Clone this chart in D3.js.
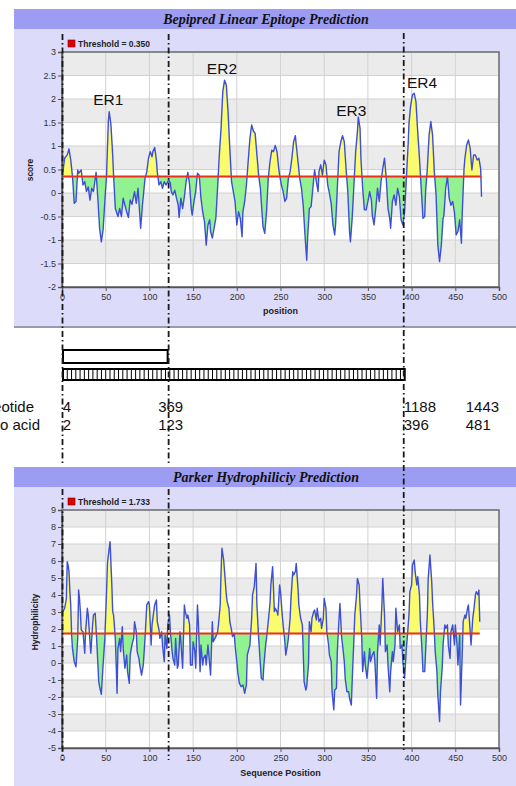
<!DOCTYPE html>
<html><head><meta charset="utf-8">
<script src="https://cdn.jsdelivr.net/npm/d3@7"></script>
<style>body{margin:0;background:#fff;overflow:hidden}svg{display:block}</style>
</head><body><svg id="c" width="516" height="786"></svg>
<script>
// ---------- DATA ----------
const bepipredTitle = "Bepipred Linear Epitope Prediction";
const parkerTitle = "Parker Hydrophiliciy Prediction";
const bepipredThreshold = 0.350;
const parkerThreshold = 1.733;
const xTicks = [0,50,100,150,200,250,300,350,400,450,500];
const bepipredYTicks = [3,2.5,2,1.5,1,0.5,0,-0.5,-1,-1.5,-2];
const parkerYTicks = [9,8,7,6,5,4,3,2,1,0,-1,-2,-3,-4,-5];
// [position, score]
const bepipred = [[1,0.45],[3,0.74],[6,0.81],[8,0.94],[10,0.70],[12,0.35],[14,-0.22],[16,-0.18],[18,0.49],[19,0.42],[22,0.49],[24,0.17],[26,0.24],[28,0.03],[30,0.13],[32,-0.15],[34,0.10],[36,0.03],[39,0.44],[41,-0.11],[43,-0.75],[45,-1.04],[47,-0.79],[49,-0.18],[51,0.38],[53,1.52],[54,1.73],[56,1.45],[58,0.81],[59,0.38],[61,-0.33],[64,-0.50],[66,-0.33],[68,-0.50],[70,-0.11],[72,-0.26],[74,-0.40],[76,-0.52],[78,-0.15],[80,-0.24],[83,0.03],[85,-0.22],[87,0.10],[90,-0.75],[92,-0.26],[95,0.31],[97,0.45],[99,0.74],[101,0.88],[103,0.77],[104,0.88],[106,0.97],[108,0.70],[109,0.45],[111,0.17],[113,0.24],[115,0.10],[117,0.24],[119,0.17],[122,0.28],[124,0.21],[125,0.03],[127,-0.04],[129,0.06],[131,-0.11],[133,-0.26],[134,-0.52],[136,-0.11],[138,-0.33],[140,-0.08],[142,0.24],[144,0.44],[146,0.17],[148,-0.36],[149,-0.47],[151,-0.18],[153,0.03],[155,0.42],[157,0.38],[159,-0.11],[161,-0.40],[163,-0.61],[165,-1.11],[167,-0.68],[169,-0.57],[170,-0.82],[172,-0.96],[174,-0.75],[176,-0.54],[178,0.10],[180,0.81],[182,1.38],[184,2.16],[186,2.40],[188,2.30],[190,1.73],[192,0.95],[194,0.24],[196,0.03],[198,-0.18],[200,-0.68],[202,-0.40],[204,-0.54],[206,-0.93],[207,-0.40],[209,-0.18],[211,0.17],[213,0.67],[215,1.16],[217,1.45],[219,1.32],[221,1.27],[223,0.81],[225,0.38],[227,0.10],[228,-0.18],[230,-0.72],[232,-0.86],[234,-0.40],[236,0.31],[238,0.67],[240,0.91],[242,0.88],[244,1.01],[246,0.88],[248,0.52],[249,0.38],[251,0.17],[253,0.03],[255,-0.18],[257,-0.11],[259,0.31],[261,0.45],[263,0.74],[265,1.09],[267,1.22],[268,1.02],[270,0.67],[272,0.31],[274,0.10],[276,-0.26],[278,-0.89],[280,-1.43],[281,-0.96],[283,-0.33],[285,-0.29],[287,0.10],[289,0.49],[291,0.24],[293,0.03],[294,0.45],[296,0.60],[298,0.38],[300,0.70],[302,0.60],[304,0.17],[306,-0.01],[308,-0.22],[310,-0.68],[312,-0.89],[313,-0.68],[315,0.10],[317,0.88],[319,1.09],[321,1.22],[323,1.09],[325,0.52],[327,0.03],[329,-0.82],[330,-1.04],[332,-0.54],[334,0.17],[336,0.88],[338,1.30],[339,1.62],[341,1.38],[342,0.74],[344,0.10],[346,-0.36],[348,-0.36],[350,-0.18],[352,0.03],[354,-0.15],[355,-0.47],[357,-0.68],[359,-0.33],[361,0.10],[363,-0.18],[365,0.24],[367,0.52],[369,0.74],[371,0.31],[373,-0.33],[375,-0.54],[376,-0.75],[378,-0.18],[380,-0.04],[382,-0.26],[384,0.10],[386,-0.08],[388,-0.57],[390,-0.68],[392,-0.40],[394,0.31],[396,1.02],[397,1.48],[399,1.87],[401,2.09],[403,2.12],[405,1.94],[407,1.30],[409,0.74],[411,0.10],[413,-0.54],[415,-0.50],[416,0.03],[418,0.52],[420,1.23],[422,1.52],[424,1.23],[426,0.45],[428,-0.04],[430,-1.11],[432,-1.46],[434,-1.11],[436,-0.54],[437,-0.47],[439,0.10],[441,0.35],[443,-0.11],[445,-0.26],[447,-0.18],[449,-0.40],[451,-0.89],[453,-0.82],[455,-0.57],[457,-1.07],[458,-0.40],[460,0.52],[461,0.74],[463,1.02],[465,1.13],[467,0.95],[469,0.49],[471,0.81],[473,0.81],[475,0.70],[477,0.74],[479,0.52],[480,-0.08]];
// [position, hydrophilicity]
const parker = [[1,3.02],[3,3.22],[5,3.80],[6,5.96],[7,5.76],[8,5.37],[9,4.20],[10,3.41],[11,1.65],[12,0.86],[14,0.08],[16,-0.22],[18,1.45],[19,4.29],[20,3.80],[21,3.02],[22,1.94],[24,1.84],[26,0.57],[27,1.84],[29,3.22],[30,2.82],[32,1.25],[33,0.57],[35,2.24],[36,2.82],[38,2.92],[40,1.06],[42,-1.10],[43,-1.39],[45,-1.84],[47,-0.12],[49,1.45],[51,4.20],[52,5.86],[54,6.75],[55,7.14],[57,4.59],[58,3.02],[59,2.82],[61,1.45],[62,-0.12],[63,-1.78],[64,0.86],[66,1.45],[67,0.67],[69,2.14],[70,0.86],[72,-0.31],[74,0.47],[75,-0.51],[77,-1.20],[78,0.47],[80,1.06],[82,1.45],[83,2.43],[85,1.84],[86,0.67],[88,0.27],[89,-0.12],[91,-0.71],[93,-0.12],[95,1.45],[97,3.41],[99,3.61],[100,3.41],[102,1.06],[103,2.24],[105,3.02],[106,3.41],[108,3.71],[109,2.43],[111,1.94],[112,1.45],[114,1.84],[115,1.06],[117,0.08],[118,1.65],[120,0.86],[121,2.24],[123,2.82],[124,1.84],[126,0.67],[127,0.27],[129,-0.12],[130,1.45],[132,-0.31],[133,-0.12],[135,1.84],[136,1.25],[138,-0.31],[140,3.41],[141,3.02],[143,2.63],[144,2.82],[146,2.24],[147,-0.12],[149,-0.12],[150,1.25],[152,0.67],[153,-0.31],[155,3.41],[156,2.43],[158,-0.51],[159,1.06],[161,-0.12],[162,0.27],[164,0.47],[165,-0.12],[167,1.06],[169,-0.12],[170,-0.71],[172,2.43],[173,1.25],[175,1.45],[176,1.55],[178,1.84],[179,2.24],[181,3.41],[182,5.37],[183,6.75],[185,6.06],[186,5.37],[188,4.00],[189,3.61],[191,3.22],[192,2.43],[194,1.94],[195,1.55],[197,1.75],[198,1.06],[200,0.08],[201,-0.51],[203,-1.20],[205,-1.39],[207,-1.29],[209,-1.78],[211,-1.29],[212,0.47],[214,0.86],[215,1.06],[217,2.63],[218,4.00],[220,4.49],[221,5.18],[222,5.86],[223,3.41],[225,1.45],[227,-0.12],[228,-0.90],[230,-1.00],[231,-0.12],[233,1.06],[234,1.45],[236,2.43],[238,3.51],[239,4.59],[241,5.67],[243,3.02],[244,3.22],[246,3.02],[247,2.82],[249,4.59],[250,4.20],[252,2.82],[253,2.24],[255,1.25],[256,0.47],[258,1.06],[259,1.45],[261,2.63],[262,3.80],[264,5.37],[265,5.18],[267,5.37],[268,5.86],[270,4.39],[271,3.41],[273,2.63],[275,2.24],[276,0.67],[277,-1.10],[279,-1.59],[280,-1.39],[282,-0.12],[283,2.43],[285,1.84],[286,2.63],[288,3.02],[289,3.12],[291,2.53],[292,3.22],[294,2.43],[296,2.63],[297,2.04],[299,2.63],[300,3.80],[302,3.22],[303,1.84],[305,1.06],[306,0.47],[308,0.08],[309,-1.69],[311,-2.76],[312,-1.59],[314,-1.49],[315,0.67],[317,2.63],[318,3.51],[320,1.45],[321,1.06],[323,0.08],[324,-0.90],[326,-1.69],[328,-1.69],[329,-2.08],[331,-2.47],[332,-1.10],[334,1.45],[335,2.82],[337,4.00],[338,4.98],[340,4.59],[341,3.41],[343,1.45],[344,-0.51],[346,0.67],[347,-0.12],[349,-0.90],[350,-0.31],[352,0.86],[353,0.08],[355,0.47],[357,0.67],[358,0.08],[360,-2.08],[361,0.67],[363,2.24],[364,1.06],[366,3.41],[367,4.98],[369,2.82],[370,0.67],[372,1.06],[373,-0.12],[375,-1.69],[376,-0.51],[378,0.67],[379,0.08],[381,1.06],[382,3.22],[384,1.84],[386,2.24],[387,0.86],[389,1.06],[390,0.08],[392,-0.90],[394,0.86],[395,1.45],[397,2.82],[398,4.20],[400,4.59],[401,5.76],[403,6.06],[404,5.37],[406,4.59],[407,5.08],[409,4.00],[410,2.43],[412,0.67],[413,-0.51],[415,-0.51],[416,0.67],[418,2.82],[419,4.98],[421,6.35],[423,4.78],[424,3.61],[426,1.84],[427,0.67],[429,-0.51],[430,-1.88],[432,-3.45],[433,-1.69],[435,-0.31],[436,1.06],[438,2.24],[439,2.04],[441,2.24],[442,1.06],[444,0.27],[445,1.84],[447,2.24],[449,1.06],[450,2.24],[452,1.06],[453,-0.12],[455,1.65],[456,-2.47],[458,0.67],[459,2.43],[461,2.82],[462,2.63],[464,3.22],[465,3.41],[467,1.84],[468,1.06],[470,2.63],[471,3.02],[473,4.00],[474,4.20],[476,4.00],[477,4.29],[478,2.43]];
// epitope region labels, anchored in data coordinates (position, score)
const erNames = ["ER1","ER2","ER3","ER4"];
const erPos = [53,183,331,412];
const erScore = [1.87,2.53,1.64,2.23];
// region boundaries (amino-acid position)
const dividerPos = [0,122,391];
const rowNames = ["Nucleotide","Amino acid"];
const nucleotideLabels = ["4","369","1188","1443"];
const aminoLabels = ["2","123","396","481"];
const labelPos = [1,110,391,462];
const segmentCount = 80;

// ---------- DRAW ----------
const svg = d3.select("#c");
const x = d3.scaleLinear().domain([0,500]).range([62,499]);
const C = {panel:"#dcdcfa", bar:"#9c9cf2", band:"#ebebeb", grid:"#d2d2d2",
  line:"#3d4fd6", yellow:"#fbfb6e", green:"#92f292", red:"#e8301c"};
const tf = "'Liberation Sans',Arial,sans-serif";

function chart(o){
  const g = svg.append("g");
  g.append("rect").attr("x",14).attr("y",o.top).attr("width",510).attr("height",o.bottom-o.top).attr("fill",C.panel);
  if (o.bottomEdge) g.append("line").attr("x1",14).attr("x2",516).attr("y1",o.bottom).attr("y2",o.bottom).attr("stroke","#9a9aa8").attr("stroke-width",2);
  g.append("rect").attr("x",14).attr("y",o.top).attr("width",510).attr("height",20).attr("fill",C.bar);
  g.append("text").attr("x",266).attr("y",o.top+15).attr("text-anchor","middle")
    .attr("font-family","'Liberation Serif','Times New Roman',serif").attr("font-weight","bold").attr("font-style","italic")
    .attr("font-size",14).attr("fill","#111").text(o.title);
  // legend
  g.append("rect").attr("x",68).attr("y",o.legendY-6).attr("width",7).attr("height",7).attr("fill","#e00000").attr("stroke","#700").attr("stroke-width",0.6);
  g.append("text").attr("x",78).attr("y",o.legendY+1).attr("font-family",tf)
    .attr("font-weight","bold").attr("font-size",8.5).attr("fill","#222").text("Threshold  = " + o.threshold.toFixed(3));

  const y = d3.scaleLinear().domain(o.ydom).range([o.py1,o.py0]);
  const ticks = o.yticks;
  for (let i=0;i<ticks.length-1;i++){
    g.append("rect").attr("x",x(0)).attr("width",x(500)-x(0))
      .attr("y",y(ticks[i])).attr("height",y(ticks[i+1])-y(ticks[i]))
      .attr("fill", i%2===0 ? C.band : "#ffffff");
  }
  g.append("g").selectAll("line").data(ticks).join("line")
    .attr("x1",x(0)).attr("x2",x(500)).attr("y1",d=>y(d)).attr("y2",d=>y(d)).attr("stroke",C.grid).attr("stroke-width",1);
  g.append("g").selectAll("line").data(xTicks).join("line")
    .attr("x1",d=>x(d)).attr("x2",d=>x(d)).attr("y1",o.py0).attr("y2",o.py1).attr("stroke",C.grid).attr("stroke-width",1);

  const ty = y(o.threshold);
  const idA = o.id+"A", idB = o.id+"B";
  const defs = g.append("defs");
  defs.append("clipPath").attr("id",idA).append("rect").attr("x",0).attr("y",0).attr("width",516).attr("height",ty);
  defs.append("clipPath").attr("id",idB).append("rect").attr("x",0).attr("y",ty).attr("width",516).attr("height",786);
  const area = d3.area().x(d=>x(d[0])).y0(ty).y1(d=>y(d[1]));
  g.append("path").attr("d",area(o.data)).attr("fill",C.yellow).attr("clip-path",`url(#${idA})`);
  g.append("path").attr("d",area(o.data)).attr("fill",C.green).attr("clip-path",`url(#${idB})`);
  g.append("path").attr("d",d3.line().x(d=>x(d[0])).y(d=>y(d[1]))(o.data))
    .attr("fill","none").attr("stroke",C.line).attr("stroke-width",1.4).attr("stroke-linejoin","round");
  g.append("line").attr("x1",x(0)).attr("x2",x(o.data[o.data.length-1][0])).attr("y1",ty).attr("y2",ty)
    .attr("stroke",C.red).attr("stroke-width",2);
  g.append("rect").attr("x",x(0)).attr("y",o.py0).attr("width",x(500)-x(0)).attr("height",o.py1-o.py0)
    .attr("fill","none").attr("stroke","#6e6e6e").attr("stroke-width",1.5);
  const ay = g.append("g").attr("transform",`translate(${x(0)},0)`)
    .call(d3.axisLeft(y).tickValues(ticks).tickSize(4).tickPadding(2).tickFormat(d=>String(d)));
  const ax = g.append("g").attr("transform",`translate(0,${o.py1})`)
    .call(d3.axisBottom(x).tickValues(xTicks).tickSize(4).tickPadding(3).tickFormat(d=>String(d)));
  [ay,ax].forEach(a=>{
    a.select(".domain").attr("stroke","#555").attr("stroke-width",1.5);
    a.selectAll(".tick line").attr("stroke","#555");
    a.selectAll("text").attr("font-family",tf).attr("font-size",9).attr("fill","#333");
  });
  g.append("text").attr("transform",`translate(${o.ylabX},${o.ylabY}) rotate(-90)`).attr("text-anchor","middle")
    .attr("font-family",tf).attr("font-weight","bold").attr("font-size",8.5).attr("fill","#222").text(o.ylabel);
  g.append("text").attr("x",(x(0)+x(500))/2).attr("y",o.xlabY).attr("text-anchor","middle")
    .attr("font-family",tf).attr("font-weight","bold").attr("font-size",9).attr("fill","#222").text(o.xlabel);
  return y;
}

const yTop = chart({id:"t", top:9, bottom:327, bottomEdge:true, title:bepipredTitle, threshold:bepipredThreshold,
  legendY:46, ydom:[-2,3], py0:52, py1:287, yticks:bepipredYTicks, data:bepipred,
  ylabel:"score", ylabX:33, ylabY:170, xlabel:"position", xlabY:314});

svg.append("g").selectAll("text").data(erNames).join("text")
  .attr("x",(d,i)=>x(erPos[i])).attr("y",(d,i)=>yTop(erScore[i])).attr("text-anchor","middle")
  .attr("font-family",tf).attr("font-size",15.5).attr("fill","#111").text(d=>d);

// middle: gene bars
const bar1 = svg.append("g");
bar1.append("rect").attr("x",x(dividerPos[0])+1).attr("y",350).attr("width",x(dividerPos[1])-x(dividerPos[0])-2).attr("height",13)
  .attr("fill","#fff").attr("stroke","#000").attr("stroke-width",2);
const bx0 = x(dividerPos[0])+1, bx1 = x(dividerPos[2])+1;
bar1.append("rect").attr("x",bx0).attr("y",369).attr("width",bx1-bx0).attr("height",11)
  .attr("fill","#fff").attr("stroke","#000").attr("stroke-width",2);
bar1.append("g").selectAll("line").data(d3.range(1,segmentCount)).join("line")
  .attr("x1",d=>bx0+(bx1-bx0)*d/segmentCount).attr("x2",d=>bx0+(bx1-bx0)*d/segmentCount)
  .attr("y1",369).attr("y2",380).attr("stroke","#000").attr("stroke-width",1);

// row names (cropped at the left edge, as in the original figure)
svg.append("text").attr("x",34).attr("y",412).attr("text-anchor","end").attr("font-family",tf).attr("font-size",15).attr("fill","#111").text(rowNames[0]);
svg.append("text").attr("x",40).attr("y",430).attr("text-anchor","end").attr("font-family",tf).attr("font-size",15).attr("fill","#111").text(rowNames[1]);
svg.append("g").selectAll("text").data(nucleotideLabels).join("text")
  .attr("x",(d,i)=>x(labelPos[i])).attr("y",412)
  .attr("font-family",tf).attr("font-size",15).attr("fill","#111").text(d=>d);
svg.append("g").selectAll("text").data(aminoLabels).join("text")
  .attr("x",(d,i)=>x(labelPos[i])).attr("y",430)
  .attr("font-family",tf).attr("font-size",15).attr("fill","#111").text(d=>d);

chart({id:"b", top:467, bottom:786, bottomEdge:false, title:parkerTitle, threshold:parkerThreshold,
  legendY:504, ydom:[-5,9], py0:510, py1:748, yticks:parkerYTicks, data:parker,
  ylabel:"Hydrophilicity", ylabX:38, ylabY:622, xlabel:"Sequence Position", xlabY:776});

// dash-dot divider lines
const dg = svg.append("g").attr("stroke","#1a1a1a").attr("stroke-width",1.8).attr("stroke-dasharray","6,3,1.5,3").attr("fill","none");
dividerPos.forEach((p,i)=>{
  const xx = x(p)+ (i===0?0.5:0);
  if (i<2){
    dg.append("line").attr("x1",xx).attr("x2",xx).attr("y1",34).attr("y2",466);
    dg.append("line").attr("x1",xx).attr("x2",xx).attr("y1",489).attr("y2",760);
  } else {
    dg.append("line").attr("x1",xx).attr("x2",xx).attr("y1",33).attr("y2",750);
  }
});
</script></body></html>
